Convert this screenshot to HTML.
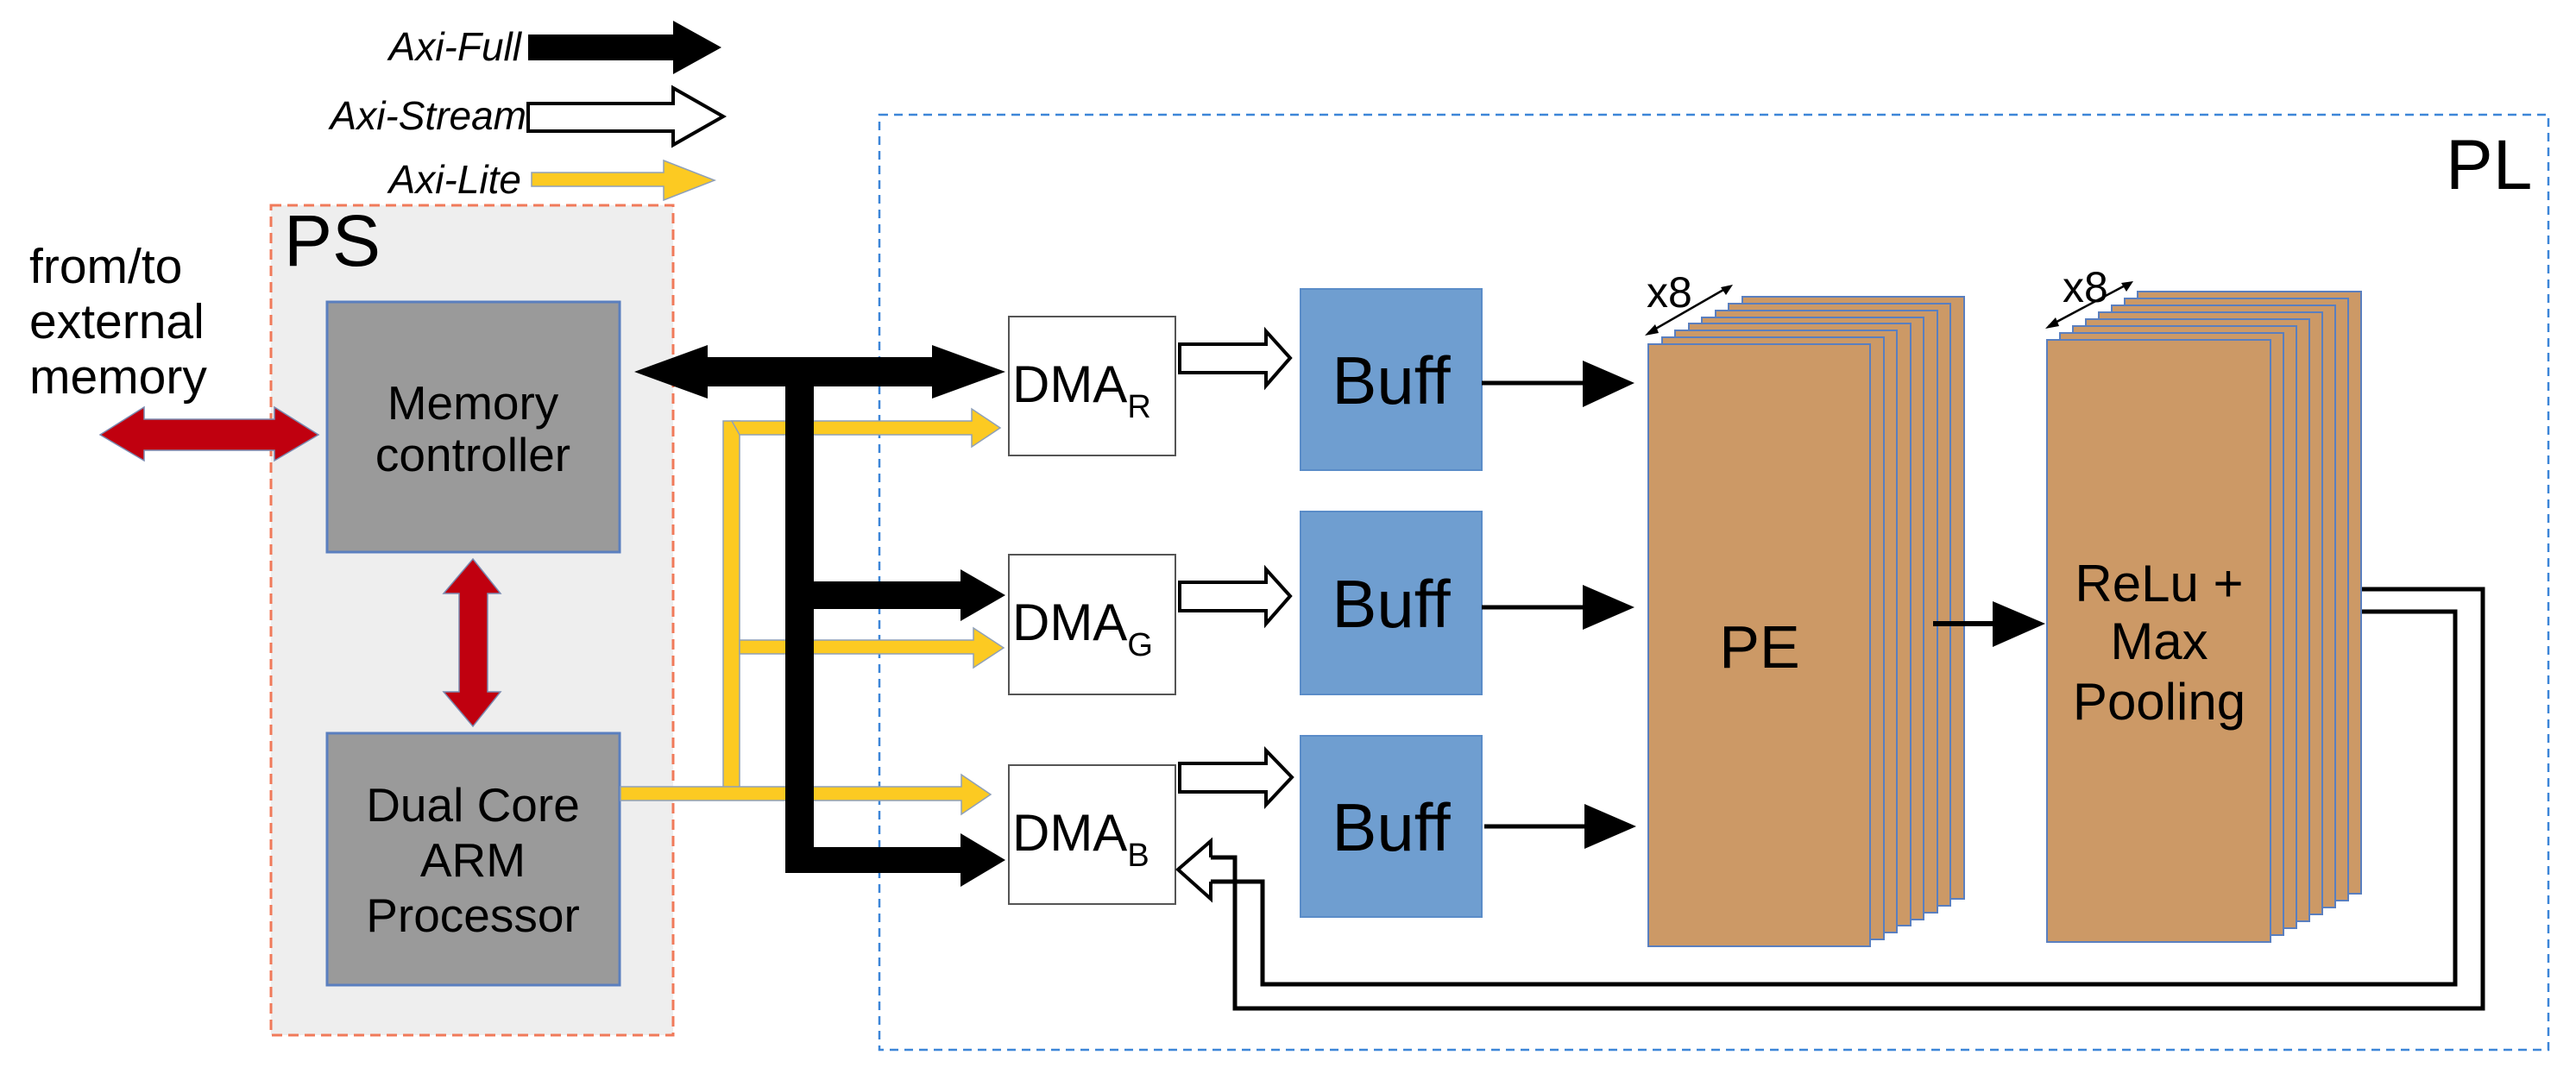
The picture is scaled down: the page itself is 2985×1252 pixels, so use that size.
<!DOCTYPE html>
<html><head><meta charset="utf-8"><style>
html,body{margin:0;padding:0;background:#fff}
svg{display:block}
text{font-family:"Liberation Sans",sans-serif}
</style></head><body>
<svg width="2985" height="1252" viewBox="0 0 2985 1252" xmlns="http://www.w3.org/2000/svg">
<!-- Legend -->
<text x="604" y="70" font-size="46" font-style="italic" text-anchor="end">Axi-Full</text>
<polygon points="612,40 780,40 780,24 836,55 780,86 780,70 612,70" fill="#000"/>
<text x="610" y="150" font-size="46" font-style="italic" text-anchor="end">Axi-Stream</text>
<polygon points="612,120 780,120 780,102 838,135 780,168 780,152 612,152" fill="#fff" stroke="#000" stroke-width="4"/>
<text x="604" y="224" font-size="46" font-style="italic" text-anchor="end">Axi-Lite</text>
<polygon points="616,200 769,200 769,186 828,209 769,232 769,216 616,216" fill="#fcca22" stroke="#8fa0b8" stroke-width="1.5"/>

<!-- PS -->
<rect x="314" y="238" width="466" height="962" fill="#eeeeee" stroke="#f07a5a" stroke-width="3" stroke-dasharray="12,7"/>
<text x="329" y="308" font-size="84">PS</text>
<text x="34" y="328" font-size="57">from/to</text>
<text x="34" y="392" font-size="57">external</text>
<text x="34" y="456" font-size="57">memory</text>

<rect x="379" y="350" width="339" height="290" fill="#9a9a9a" stroke="#5a7fbf" stroke-width="3"/>
<text x="548" y="486" font-size="55" text-anchor="middle">Memory</text>
<text x="548" y="546" font-size="55" text-anchor="middle">controller</text>
<rect x="379" y="850" width="339" height="292" fill="#9a9a9a" stroke="#5a7fbf" stroke-width="3"/>
<text x="548" y="952" font-size="55" text-anchor="middle">Dual Core</text>
<text x="548" y="1016" font-size="55" text-anchor="middle">ARM</text>
<text x="548" y="1080" font-size="55" text-anchor="middle">Processor</text>

<!-- red arrows -->
<polygon points="116,504 167,472 167,486 318,486 318,472 369,504 318,534 318,522 167,522 167,534" fill="#c0000f" stroke="#7a8ab0" stroke-width="1.5"/>
<polygon points="548,648 580,688 565,688 565,802 580,802 548,842 514,802 532,802 532,688 514,688" fill="#c0000f" stroke="#7a8ab0" stroke-width="1.5"/>

<!-- PL -->
<rect x="1019" y="133" width="1934" height="1084" fill="none" stroke="#3d86d8" stroke-width="2.5" stroke-dasharray="10,7"/>
<text x="2834" y="219" font-size="82">PL</text>

<!-- yellow lines -->
<rect x="838" y="488" width="19" height="426" fill="#fcca22" stroke="#8fa0b8" stroke-width="1.5"/>
<polygon points="848,488 1126,488 1126,474 1159,496 1126,518 1126,504 857,504" fill="#fcca22" stroke="#8fa0b8" stroke-width="1.5"/>
<polygon points="857,742 1128,742 1128,728 1163,751 1128,774 1128,758 857,758" fill="#fcca22" stroke="#8fa0b8" stroke-width="1.5"/>
<polygon points="719,912 1114,912 1114,898 1148,921 1114,944 1114,928 719,928" fill="#fcca22" stroke="#8fa0b8" stroke-width="1.5"/>

<!-- black bus -->
<polygon points="735,431 820,400 820,414 1080,414 1080,400 1165,431 1080,462 1080,448 820,448 820,462" fill="#000"/>
<rect x="910" y="440" width="33" height="572" fill="#000"/>
<polygon points="930,674 1113,674 1113,660 1165,690 1113,720 1113,706 930,706" fill="#000"/>
<polygon points="930,982 1113,982 1113,966 1165,997 1113,1028 1113,1012 930,1012" fill="#000"/>

<!-- DMAs -->
<g stroke="#555" stroke-width="2" fill="#fff">
<rect x="1169" y="367" width="193" height="161"/>
<rect x="1169" y="643" width="193" height="162"/>
<rect x="1169" y="887" width="193" height="161"/>
</g>
<g font-size="60">
<text x="1173" y="466">DMA<tspan font-size="38" dy="18">R</tspan></text>
<text x="1173" y="742">DMA<tspan font-size="38" dy="18">G</tspan></text>
<text x="1173" y="986">DMA<tspan font-size="38" dy="18">B</tspan></text>
</g>

<!-- stream arrows -->
<g fill="#fff" stroke="#000" stroke-width="4">
<polygon points="1367,399 1467,399 1467,384 1495,415 1467,447 1467,432 1367,432"/>
<polygon points="1367,675 1467,675 1467,660 1495,691 1467,723 1467,708 1367,708"/>
<polygon points="1367,885 1467,885 1467,870 1497,901 1467,933 1467,918 1367,918"/>
</g>

<!-- Buffs -->
<g fill="#6f9ed0" stroke="#5a8cc8" stroke-width="2">
<rect x="1507" y="335" width="210" height="210"/>
<rect x="1507" y="593" width="210" height="212"/>
<rect x="1507" y="853" width="210" height="210"/>
</g>
<g font-size="78" text-anchor="middle">
<text x="1612" y="468">Buff</text>
<text x="1612" y="727">Buff</text>
<text x="1612" y="986">Buff</text>
</g>

<!-- buff -> PE arrows -->
<g stroke="#000" stroke-width="5"><line x1="1717" y1="444" x2="1840" y2="444"/><line x1="1717" y1="704" x2="1840" y2="704"/><line x1="1720" y1="958" x2="1840" y2="958"/></g>
<polygon points="1834,418 1894,444 1834,472" fill="#000"/>
<polygon points="1834,678 1894,704 1834,730" fill="#000"/>
<polygon points="1836,932 1896,958 1836,984" fill="#000"/>

<!-- PE stack -->
<g fill="#cc9966" stroke="#5a7fbf" stroke-width="2">
<rect x="2019" y="344" width="257" height="698"/>
<rect x="2003" y="352" width="257" height="698"/>
<rect x="1988" y="360" width="257" height="698"/>
<rect x="1972" y="368" width="257" height="698"/>
<rect x="1957" y="375" width="257" height="698"/>
<rect x="1941" y="383" width="257" height="698"/>
<rect x="1926" y="391" width="257" height="698"/>
<rect x="1910" y="399" width="257" height="698"/>
</g>
<text x="2039" y="774" font-size="70" text-anchor="middle">PE</text>
<text x="1908" y="356" font-size="50">x8</text>
<line x1="1910" y1="386" x2="2004" y2="332" stroke="#000" stroke-width="2.5"/>
<polygon points="1906,389 1918,376 1922,386" fill="#000"/><polygon points="2008,330 1994,333 2000,342" fill="#000"/>

<!-- PE -> ReLu -->
<line x1="2240" y1="723" x2="2312" y2="723" stroke="#000" stroke-width="6"/>
<polygon points="2309,697 2370,723 2309,750" fill="#000"/>

<!-- ReLu stack -->
<g fill="#cc9966" stroke="#5a7fbf" stroke-width="2">
<rect x="2477" y="338" width="259" height="698"/>
<rect x="2462" y="346" width="259" height="698"/>
<rect x="2447" y="354" width="259" height="698"/>
<rect x="2432" y="362" width="259" height="698"/>
<rect x="2417" y="370" width="259" height="698"/>
<rect x="2402" y="378" width="259" height="698"/>
<rect x="2387" y="386" width="259" height="698"/>
<rect x="2372" y="394" width="259" height="698"/>
</g>
<g font-size="60" text-anchor="middle">
<text x="2502" y="697">ReLu +</text>
<text x="2502" y="764">Max</text>
<text x="2502" y="834">Pooling</text>
</g>
<text x="2390" y="350" font-size="50">x8</text>
<line x1="2374" y1="378" x2="2468" y2="328" stroke="#000" stroke-width="2.5"/>
<polygon points="2370,381 2382,368 2386,378" fill="#000"/><polygon points="2472,326 2458,328 2464,338" fill="#000"/>

<!-- feedback stream -->
<polyline points="2737,683 2877,683 2877,1169 1431,1169 1431,994 1401,994" fill="none" stroke="#000" stroke-width="5"/>
<polyline points="2737,709 2845,709 2845,1141 1463,1141 1463,1022 1401,1022" fill="none" stroke="#000" stroke-width="5"/>
<polyline points="1403,994 1403,975 1365,1008 1403,1042 1403,1022" fill="#fff" stroke="#000" stroke-width="4"/>
</svg>
</body></html>
